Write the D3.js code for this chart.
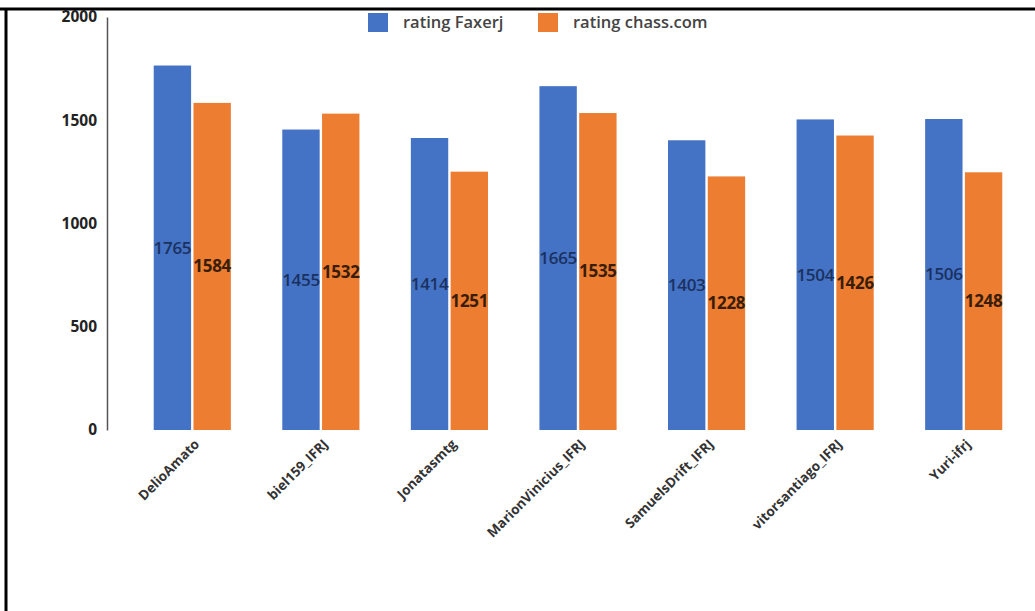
<!DOCTYPE html>
<html>
<head>
<meta charset="utf-8">
<script src="https://cdn.jsdelivr.net/npm/d3@7"></script>
<style>
  html, body { margin: 0; padding: 0; background: #fff; }
  svg { display: block; }
</style>
</head>
<body>
<svg id="chart" width="1035" height="611"></svg>
<script>
// Player names and their two ratings
const players = ["DelioAmato", "biel159_IFRJ", "Jonatasmtg", "MarionVinicius_IFRJ", "SamuelsDrift_IFRJ", "vitorsantiago_IFRJ", "Yuri-ifrj"];
const ratingFaxerj = [1765, 1455, 1414, 1665, 1403, 1504, 1506];
const ratingChess = [1584, 1532, 1251, 1535, 1228, 1426, 1248];
const seriesNames = ["rating Faxerj", "rating chass.com"];
const yTicks = [0, 500, 1000, 1500, 2000];

const colors = ["#4472C4", "#ED7D31"];
const labelColors = ["#1a3160", "#3a1d08"];
const series = [ratingFaxerj, ratingChess];

const svg = d3.select("#chart");
const W = 1035, H = 611;
const font = "'Open Sans', sans-serif";

// Frame lines (top and left)
svg.append("line").attr("x1", 0).attr("x2", W).attr("y1", 9).attr("y2", 9)
  .attr("stroke", "#000").attr("stroke-width", 3);
svg.append("line").attr("x1", 6).attr("x2", 6).attr("y1", 8).attr("y2", H)
  .attr("stroke", "#000").attr("stroke-width", 3);

const x0 = d3.scaleBand().domain(players).range([128, 1028]).paddingInner(0.4).paddingOuter(0.2);
const x1 = d3.scaleBand().domain([0, 1]).range([0, x0.bandwidth()]).paddingInner(0.06);
const y = d3.scaleLinear().domain([0, 2000]).range([430, 17]);

// Y axis
const yAxis = svg.append("g").attr("transform", "translate(107,0)")
  .call(d3.axisLeft(y).tickValues(yTicks).tickFormat(d3.format("d")).tickSize(0).tickPadding(10));
yAxis.select(".domain").attr("stroke", "#555").attr("stroke-width", 1.5);
yAxis.selectAll("text")
  .attr("font-family", font)
  .attr("font-weight", 700)
  .attr("font-size", 15.5)
  .attr("fill", "#222");

// Bars
const groups = svg.append("g").selectAll("g").data(players).join("g")
  .attr("transform", d => `translate(${x0(d)},0)`);

groups.each(function(name, i) {
  const g = d3.select(this);
  [0, 1].forEach(s => {
    const v = series[s][i];
    g.append("rect")
      .attr("x", x1(s))
      .attr("y", y(v))
      .attr("width", x1.bandwidth())
      .attr("height", y(0) - y(v))
      .attr("fill", colors[s]);
  });
});

// Value labels at the middle of each bar
groups.each(function(name, i) {
  const g = d3.select(this);
  [0, 1].forEach(s => {
    const v = series[s][i];
    g.append("text")
      .attr("x", x1(s) + x1.bandwidth() / 2)
      .attr("y", y(v / 2))
      .attr("dy", "0.35em")
      .attr("text-anchor", "middle")
      .attr("font-family", font)
      .attr("font-weight", s === 0 ? 600 : 700)
      .attr("font-size", 17)
      .attr("letter-spacing", -0.3)
      .attr("fill", labelColors[s])
      .text(v);
  });
});

// Category labels, rotated
svg.append("g").selectAll("text").data(players).join("text")
  .attr("transform", d => `translate(${x0(d) + x0.bandwidth() / 2 + 8},445) rotate(-45)`)
  .attr("text-anchor", "end")
  .attr("font-family", font)
  .attr("font-weight", 700)
  .attr("font-size", 13.5)
  .attr("fill", "#333")
  .text(d => d);

// Legend
const legend = svg.append("g");
const legendX = [368, 538];
seriesNames.forEach((n, s) => {
  legend.append("rect").attr("x", legendX[s]).attr("y", 13)
    .attr("width", 20).attr("height", 19).attr("fill", colors[s]);
  legend.append("text").attr("x", legendX[s] + 35).attr("y", 28)
    .attr("font-family", font)
    .attr("font-weight", 600)
    .attr("font-size", 16.5)
    .attr("fill", "#444")
    .text(n);
});
</script>
</body>
</html>
